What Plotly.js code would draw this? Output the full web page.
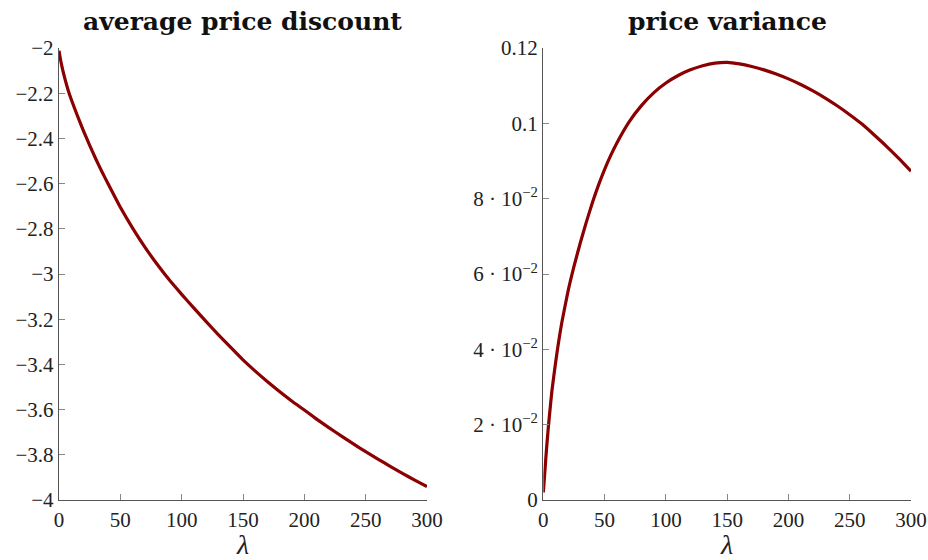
<!DOCTYPE html>
<html>
<head>
<meta charset="utf-8">
<script src="https://cdn.plot.ly/plotly-3.0.1.min.js"></script>
<style>html,body{margin:0;padding:0;background:#fff;}#chart{width:928px;height:560px;}</style>
</head>
<body>
<div id="chart"></div>
<script>
// Left panel: average price discount
const discountX = [0, 1, 2, 3, 5, 7.5, 10, 15, 20, 25, 30, 35, 40, 50, 60, 70, 80, 90, 100,
  110, 120, 130, 140, 150, 160, 170, 180, 190, 200, 210, 220, 230, 240, 250, 260, 270, 280, 290, 300];
const discountY = [-2.012, -2.045, -2.072, -2.097, -2.140, -2.188, -2.228, -2.300, -2.3675, -2.431, -2.491, -2.5475, -2.601,
  -2.705, -2.797, -2.881, -2.957, -3.027, -3.090, -3.151, -3.211, -3.269, -3.325, -3.380, -3.430, -3.477,
  -3.521, -3.563, -3.602, -3.642, -3.680, -3.716, -3.752, -3.786, -3.819, -3.851, -3.882, -3.912, -3.941];

// Right panel: price variance
const varianceX = [0, 1, 2, 3, 4, 5, 7, 10, 12, 15, 20, 25, 30, 35, 40, 45, 50, 55, 60, 70, 80, 90, 100,
  110, 120, 130, 140, 150, 160, 170, 180, 190, 200, 210, 220, 230, 240, 250, 260, 270, 280, 290, 300];
const varianceY = [0.002, 0.0065, 0.011, 0.0152, 0.019, 0.0225, 0.029, 0.0365, 0.041, 0.047, 0.0552,
  0.062, 0.0681, 0.0737, 0.0789, 0.0836, 0.0878, 0.0915, 0.0948, 0.1004, 0.1047, 0.1081, 0.1107, 0.1127,
  0.1142, 0.1153, 0.116, 0.1162, 0.1158, 0.1151, 0.1142, 0.1131, 0.1118, 0.1103, 0.1086, 0.1067, 0.1046,
  0.1023, 0.0998, 0.0969, 0.0939, 0.0907, 0.0873];

const xTicks = [0, 50, 100, 150, 200, 250, 300];
const xTickText = ['0', '50', '100', '150', '200', '250', '300'];
const leftYTicks = [-2, -2.2, -2.4, -2.6, -2.8, -3, -3.2, -3.4, -3.6, -3.8, -4];
const leftYText = ['−2', '−2.2', '−2.4', '−2.6', '−2.8', '−3', '−3.2', '−3.4', '−3.6', '−3.8', '−4'];
const rightYTicks = [0, 0.02, 0.04, 0.06, 0.08, 0.1, 0.12];
const rightYText = ['0', '2 · 10<sup>−2</sup>', '4 · 10<sup>−2</sup>', '6 · 10<sup>−2</sup>', '8 · 10<sup>−2</sup>', '0.1', '0.12'];
const titles = ['average price discount', 'price variance'];
const xLabel = 'λ';

const FONT = 'Liberation Serif, DejaVu Serif, serif';
const TITLE_FONT = 'DejaVu Serif, serif';
const lineColor = '#8b0000';

const traces = [
  {x: discountX, y: discountY, xaxis: 'x', yaxis: 'y', mode: 'lines', type: 'scatter',
   line: {color: lineColor, width: 3.2, shape: 'spline', smoothing: 0.5}, hoverinfo: 'skip'},
  {x: varianceX, y: varianceY, xaxis: 'x2', yaxis: 'y2', mode: 'lines', type: 'scatter',
   line: {color: lineColor, width: 3.2, shape: 'spline', smoothing: 0.5}, hoverinfo: 'skip'}
];

function xAxis(domain, anchor) {
  return {
    domain: domain, anchor: anchor, range: [0, 300], tickvals: xTicks, ticktext: xTickText,
    showgrid: false, zeroline: false, showline: true, linecolor: '#555', linewidth: 1.3,
    ticks: 'inside', ticklen: 6, tickcolor: '#888', tickwidth: 1,
    tickfont: {family: FONT, size: 21, color: '#222'},
    title: {text: '<i>' + xLabel + '</i>', font: {family: FONT, size: 28, color: '#222'}, standoff: 2}
  };
}
function yAxis(range, vals, text, anchor) {
  return {
    domain: [0, 1], anchor: anchor, range: range, tickvals: vals, ticktext: text,
    showgrid: false, zeroline: false, showline: true, linecolor: '#555', linewidth: 1.3,
    ticks: 'inside', ticklen: 6, tickcolor: '#888', tickwidth: 1,
    tickfont: {family: FONT, size: 21, color: '#222'}
  };
}

const layout = {
  width: 928, height: 560,
  margin: {l: 0, r: 0, t: 48, b: 60},
  paper_bgcolor: '#fff', plot_bgcolor: '#fff',
  showlegend: false,
  xaxis: xAxis([0.0636, 0.4601], 'y'),
  yaxis: yAxis([-4, -2], leftYTicks, leftYText, 'x'),
  xaxis2: xAxis([0.5855, 0.9817], 'y2'),
  yaxis2: yAxis([0, 0.12], rightYTicks, rightYText, 'x2'),
  annotations: [
    {text: '<b>' + titles[0] + '</b>', x: 0.2618, y: 1, xref: 'paper', yref: 'paper',
     xanchor: 'center', yanchor: 'bottom', yshift: 10, showarrow: false,
     font: {family: TITLE_FONT, size: 25, color: '#111'}},
    {text: '<b>' + titles[1] + '</b>', x: 0.7836, y: 1, xref: 'paper', yref: 'paper',
     xanchor: 'center', yanchor: 'bottom', yshift: 10, showarrow: false,
     font: {family: TITLE_FONT, size: 25, color: '#111'}}
  ]
};

Plotly.newPlot('chart', traces, layout, {staticPlot: true, displayModeBar: false});
</script>
</body>
</html>
